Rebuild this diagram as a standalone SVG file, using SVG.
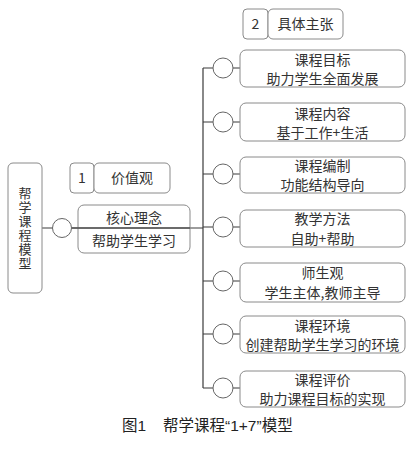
<svg xmlns="http://www.w3.org/2000/svg" width="419" height="453" viewBox="0 0 419 453">
<style>
.box{fill:#fff;stroke:#8a8a8a;stroke-width:1}
.ln{stroke:#3a3a3a;stroke-width:1.2;fill:none}
.cir{fill:#fff;stroke:#666;stroke-width:1}
text{font-family:"Noto Sans CJK SC","Noto Sans",sans-serif;font-size:14px;fill:#333;text-anchor:middle}
.cap{font-size:15.5px;fill:#222;text-anchor:start}
.lat{font-family:"Liberation Sans",Arial,sans-serif}
</style>
<rect width="419" height="453" fill="#fff"/>
<g id="connectors">
<line class="ln" x1="42" y1="228" x2="203" y2="228"/>
<line class="ln" x1="203" y1="68" x2="203" y2="388"/>
<line class="ln" x1="203" y1="68" x2="405" y2="68"/>
<line class="ln" x1="203" y1="122" x2="405" y2="122"/>
<line class="ln" x1="203" y1="174" x2="405" y2="174"/>
<line class="ln" x1="203" y1="227" x2="405" y2="227"/>
<line class="ln" x1="203" y1="281" x2="405" y2="281"/>
<line class="ln" x1="203" y1="334" x2="405" y2="334"/>
<line class="ln" x1="203" y1="388" x2="405" y2="388"/>
</g>
<g id="root">
<rect class="box" x="8" y="163" width="34" height="130" rx="5"/>
<text x="25" y="187" style="writing-mode:vertical-rl;text-anchor:start;font-size:13px;letter-spacing:1px">帮学课程模型</text>
</g>
<g id="label1">
<rect class="box" x="70" y="163" width="24" height="30" rx="4"/>
<text x="82" y="183">1</text>
<rect class="box" x="94" y="163" width="76" height="30" rx="5"/>
<text x="132" y="183">价值观</text>
</g>
<g id="core">
<rect class="box" x="78" y="205" width="112" height="48" rx="6" fill-opacity="0"/>
<line class="ln" x1="72" y1="228" x2="190" y2="228"/>
<circle class="cir" cx="62" cy="228" r="9.5"/>
<text x="134" y="223">核心理念</text>
<text x="134" y="246">帮助学生学习</text>
</g>
<g id="label2">
<rect class="box" x="243" y="9" width="25" height="30" rx="4"/>
<text x="255.5" y="29">2</text>
<rect class="box" x="268" y="9" width="75" height="30" rx="5"/>
<text x="305.5" y="29">具体主张</text>
</g>
<g id="n1">
<rect class="box" x="240" y="50" width="165" height="37" rx="6" fill="none"/>
<circle class="cir" cx="223" cy="68" r="10"/>
<text x="322.5" y="65">课程目标</text>
<text x="322.5" y="84">助力学生全面发展</text>
</g>
<g id="n2">
<rect class="box" x="240" y="103" width="165" height="38" rx="6" fill="none"/>
<circle class="cir" cx="223" cy="122" r="10"/>
<text x="322.5" y="119">课程内容</text>
<text x="322.5" y="138">基于工作+生活</text>
</g>
<g id="n3">
<rect class="box" x="240" y="157" width="165" height="36" rx="6" fill="none"/>
<circle class="cir" cx="223" cy="174" r="10"/>
<text x="322.5" y="171">课程编制</text>
<text x="322.5" y="190">功能结构导向</text>
</g>
<g id="n4">
<rect class="box" x="240" y="210" width="165" height="37" rx="6" fill="none"/>
<circle class="cir" cx="223" cy="227" r="10"/>
<text x="322.5" y="224">教学方法</text>
<text x="322.5" y="244">自助+帮助</text>
</g>
<g id="n5">
<rect class="box" x="240" y="263" width="165" height="39" rx="6" fill="none"/>
<circle class="cir" cx="223" cy="281" r="10"/>
<text x="322.5" y="278">师生观</text>
<text x="322.5" y="298">学生主体,教师主导</text>
</g>
<g id="n6">
<rect class="box" x="240" y="316" width="165" height="37" rx="6" fill="none"/>
<circle class="cir" cx="223" cy="334" r="10"/>
<text x="322.5" y="331">课程环境</text>
<text x="322.5" y="350">创建帮助学生学习的环境</text>
</g>
<g id="n7">
<rect class="box" x="240" y="371" width="165" height="36" rx="6" fill="none"/>
<circle class="cir" cx="223" cy="388" r="10"/>
<text x="322.5" y="385">课程评价</text>
<text x="322.5" y="404">助力课程目标的实现</text>
</g>
<g id="caption">
<text class="cap" x="122" y="431">图<tspan class="lat">1</tspan></text>
<text class="cap" x="163" y="431">帮学课程<tspan class="lat">“1+7”</tspan>模型</text>
</g>
</svg>
